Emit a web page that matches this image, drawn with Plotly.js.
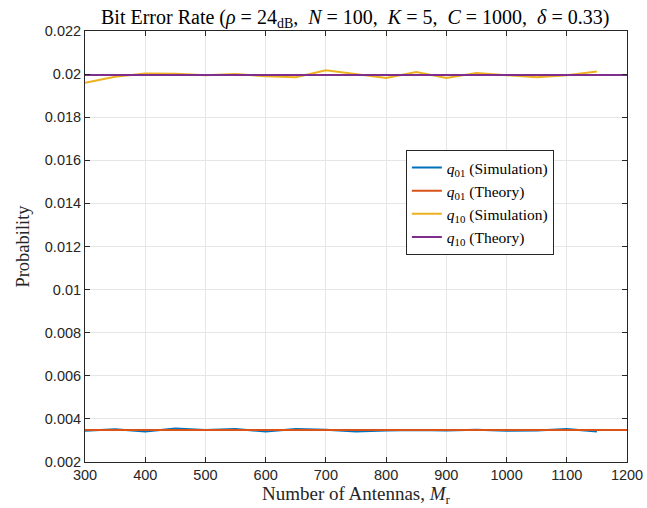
<!DOCTYPE html>
<html>
<head>
<meta charset="utf-8">
<script src="https://cdn.plot.ly/plotly-3.0.1.min.js"></script>
<style>html,body{margin:0;padding:0;background:#fff;}#chart{width:647px;height:508px;}</style>
</head>
<body>
<div id="chart"></div>
<script>
// Data
const antennasSim = [300,350,400,450,500,550,600,650,700,750,800,850,900,950,1000,1050,1100,1150];
const antennasTheory = [300,1200];
const q01Sim = [0.00345,0.00352,0.00342,0.00355,0.00348,0.00353,0.00341,0.00353,0.00350,0.00342,0.00346,0.00349,0.00346,0.00350,0.00345,0.00346,0.00353,0.00342];
const q01Theory = [0.00349,0.00349];
const q10Sim = [0.01960,0.01988,0.02003,0.02002,0.01995,0.02000,0.01990,0.01985,0.02018,0.02000,0.01982,0.02010,0.01982,0.02005,0.01995,0.01985,0.01995,0.02012];
const q10Theory = [0.01996,0.01996];
const yTickVals = [0.002,0.004,0.006,0.008,0.01,0.012,0.014,0.016,0.018,0.02,0.022];
const yTickText = ["0.002","0.004","0.006","0.008","0.01","0.012","0.014","0.016","0.018","0.02","0.022"];
const xTickVals = [300,400,500,600,700,800,900,1000,1100,1200];

const serif = "Liberation Serif, Times New Roman, serif";
const sans = "Liberation Sans, Arial, sans-serif";

const traces = [
  {x: antennasSim, y: q01Sim, mode: 'lines', name: '<i>q</i><sub>01</sub> (Simulation)', line: {color: '#0072BD', width: 2}},
  {x: antennasTheory, y: q01Theory, mode: 'lines', name: '<i>q</i><sub>01</sub> (Theory)', line: {color: '#D95319', width: 2}},
  {x: antennasSim, y: q10Sim, mode: 'lines', name: '<i>q</i><sub>10</sub> (Simulation)', line: {color: '#EDB120', width: 2}},
  {x: antennasTheory, y: q10Theory, mode: 'lines', name: '<i>q</i><sub>10</sub> (Theory)', line: {color: '#7E2F8E', width: 2}}
];

const layout = {
  width: 647, height: 508,
  margin: {l: 85, r: 20, t: 31, b: 46},
  paper_bgcolor: '#fff', plot_bgcolor: '#fff',
  showlegend: true,
  title: {
    text: 'Bit Error Rate (<i>ρ</i> = 24<sub>dB</sub>,  <i>N</i> = 100,  <i>K</i> = 5,  <i>C</i> = 1000,  <i>δ</i> = 0.33)',
    font: {family: serif, size: 20, color: '#000'},
    x: 0.549, xanchor: 'center', y: 0.967, yanchor: 'middle'
  },
  xaxis: {
    range: [300, 1200], tickvals: xTickVals, ticktext: xTickVals.map(String),
    showgrid: true, gridcolor: '#e6e6e6', gridwidth: 1,
    zeroline: false, showline: true, linecolor: '#262626', linewidth: 1, mirror: 'allticks',
    ticks: 'inside', ticklen: 5, tickcolor: '#262626',
    tickfont: {family: sans, size: 14.5, color: '#262626'},
    title: {text: 'Number of Antennas, <i>M</i><sub>r</sub>', font: {family: serif, size: 19, color: '#262626'}, standoff: 2}
  },
  yaxis: {
    range: [0.002, 0.022], tickvals: yTickVals, ticktext: yTickText,
    showgrid: true, gridcolor: '#e6e6e6', gridwidth: 1,
    zeroline: false, showline: true, linecolor: '#262626', linewidth: 1, mirror: 'allticks',
    ticks: 'inside', ticklen: 5, tickcolor: '#262626',
    tickfont: {family: sans, size: 14.5, color: '#262626'},
    title: {text: 'Probability', font: {family: serif, size: 18.5, color: '#262626'}, standoff: 10}
  },
  legend: {
    x: 0.592, y: 0.724, xanchor: 'left', yanchor: 'top',
    bgcolor: '#fff', bordercolor: '#262626', borderwidth: 1,
    font: {family: serif, size: 15.5, color: '#000'},
    tracegroupgap: 0
  }
};

Plotly.newPlot('chart', traces, layout, {displayModeBar: false, staticPlot: true});
</script>
</body>
</html>
